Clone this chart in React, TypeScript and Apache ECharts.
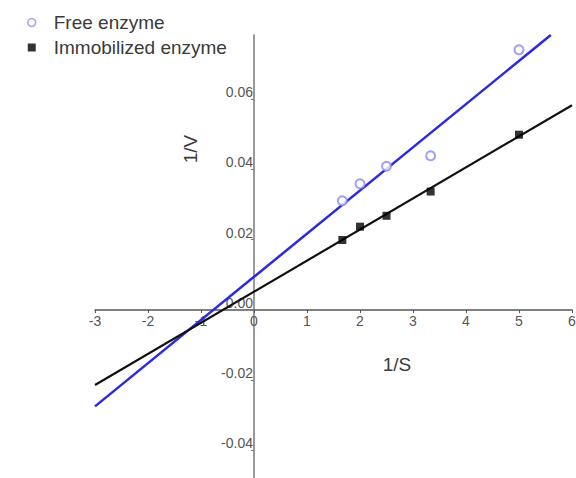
import React, { useEffect, useRef } from "react";
import * as echarts from "echarts";

const invS = [1.667, 2, 2.5, 3.333, 5];
const freeInvV = [0.0311, 0.0359, 0.0409, 0.0439, 0.0741];
const immobInvV = [0.0199, 0.0237, 0.0268, 0.0337, 0.0499];
const freeFitX = [-3, 5.6];
const freeFitY = [-0.0275, 0.0783];
const immobFitX = [-3, 6];
const immobFitY = [-0.0214, 0.0583];
const yTickValues = [-0.04, -0.02, 0, 0.02, 0.04, 0.06];
const seriesNames = ["Free enzyme", "Immobilized enzyme"];

export default function App() {
  const ref = useRef<HTMLDivElement>(null);
  useEffect(() => {
    if (!ref.current) return;
    const chart = echarts.init(ref.current, undefined, { renderer: "svg" });
    const font = "Liberation Sans, Arial, sans-serif";
    chart.setOption({
      animation: false,
      backgroundColor: "#ffffff",
      grid: { left: 95, right: 4, top: 35, bottom: 0, containLabel: false, outerBoundsMode: "none" },
      legend: {
        left: 22,
        top: 8,
        orient: "vertical",
        itemGap: 6,
        itemWidth: 8,
        itemHeight: 8,
        textStyle: { fontFamily: font, fontSize: 19, color: "#3a3a3a", padding: [0, 0, 0, 13] },
        data: [
          { name: seriesNames[0], icon: "circle", itemStyle: { color: "#ffffff", borderColor: "#8a8aee", borderWidth: 1.5 } },
          { name: seriesNames[1], icon: "rect", itemStyle: { color: "#000000" } },
        ],
      },
      xAxis: {
        type: "value",
        position: "bottom",
        offset: -168,
        min: -3,
        max: 6,
        interval: 1,
        axisLine: { onZero: false, lineStyle: { color: "#555", width: 1.5 } },
        axisTick: { show: true, length: 3, lineStyle: { color: "#555" } },
        axisLabel: { color: "#555", fontFamily: font, fontSize: 14, margin: 4 },
        splitLine: { show: false },
      },
      yAxis: {
        type: "value",
        position: "left",
        offset: -159,
        min: -0.0479,
        max: 0.0783,
        axisLine: { onZero: false, lineStyle: { color: "#777", width: 1.5 } },
        axisTick: { show: true, length: 3, customValues: yTickValues, lineStyle: { color: "#777" } },
        axisLabel: {
          color: "#555",
          fontFamily: font,
          fontSize: 14,
          margin: 1,
          customValues: yTickValues,
          formatter: (v: number) => v.toFixed(2),
          verticalAlign: "bottom",
        },
        splitLine: { show: false },
      },
      graphic: [
        {
          type: "text",
          x: 190,
          y: 149,
          rotation: Math.PI / 2,
          style: { text: "1/V", fontFamily: font, fontSize: 19, fill: "#3a3a3a", align: "center", verticalAlign: "middle" },
        },
        {
          type: "text",
          x: 397,
          y: 364,
          style: { text: "1/S", fontFamily: font, fontSize: 19, fill: "#3a3a3a", align: "center", verticalAlign: "middle" },
        },
      ],
      series: [
        {
          name: seriesNames[0] + " fit",
          type: "line",
          data: freeFitX.map((x, i) => [x, freeFitY[i]]),
          showSymbol: false,
          symbol: "none",
          lineStyle: { color: "#2a2ae0", width: 2.5 },
          z: 2,
        },
        {
          name: seriesNames[1] + " fit",
          type: "line",
          data: immobFitX.map((x, i) => [x, immobFitY[i]]),
          showSymbol: false,
          symbol: "none",
          lineStyle: { color: "#111", width: 2.2 },
          z: 2,
        },
        {
          name: seriesNames[0],
          type: "scatter",
          data: invS.map((x, i) => [x, freeInvV[i]]),
          symbol: "emptyCircle",
          symbolSize: 9,
          itemStyle: { color: "#8a8aee", borderColor: "#8a8aee", borderWidth: 1.5 },
          z: 3,
        },
        {
          name: seriesNames[1],
          type: "scatter",
          data: invS.map((x, i) => [x, immobInvV[i]]),
          symbol: "rect",
          symbolSize: 8,
          itemStyle: { color: "#000" },
          z: 3,
        },
      ],
    });
    return () => chart.dispose();
  }, []);
  return <div ref={ref} style={{ position: "fixed", left: 0, top: 0, width: 576, height: 478 }} />;
}
